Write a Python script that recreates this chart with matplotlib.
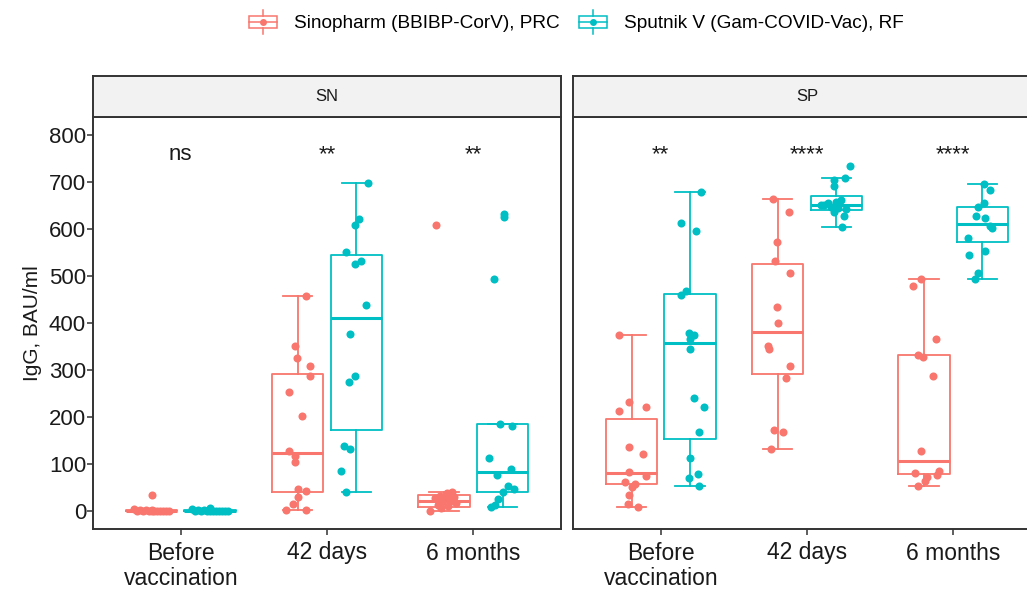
import matplotlib
matplotlib.use("Agg")
import matplotlib.pyplot as plt
import numpy as np
from matplotlib.legend_handler import HandlerBase
from matplotlib.patches import Rectangle
from matplotlib.lines import Line2D

plt.rcParams['font.family'] = ['Liberation Sans', 'DejaVu Sans']

# ---------------- data ----------------
timepoints = ["Before\nvaccination", "42 days", "6 months"]
panels = ["SN", "SP"]
groups = ["Sinopharm (BBIBP-CorV), PRC", "Sputnik V (Gam-COVID-Vac), RF"]
colors = ["#F8766D", "#00BFC4"]
signif = {"SN": ["ns", "**", "**"], "SP": ["**", "****", "****"]}

# box statistics: (whislo, q1, med, q3, whishi)
box_SN_sino = [(0, 0, 1, 2, 4), (2, 41, 123, 291, 458), (0, 9, 21, 34, 41)]
box_SN_sput = [(0, 0, 1, 2, 4), (41, 172, 411, 544, 698), (9, 41, 84, 185, 185)]
box_SP_sino = [(9, 57, 82, 195, 374), (133, 291, 380, 525, 663), (53, 79, 107, 333, 493)]
box_SP_sput = [(53, 153, 357, 462, 679), (605, 640, 651, 669, 708), (493, 572, 610, 646, 696)]

# individual values per panel / group / timepoint
SN_sino_before = [34, 4, 3, 2, 2, 1, 1, 1, 0, 0, 0, 0, 0, 0, 0]
SN_sino_42 = [458, 352, 326, 309, 287, 253, 202, 128, 118, 105, 47, 42, 30, 15, 2, 2]
SN_sino_6m = [608, 41, 38, 35, 32, 30, 27, 25, 22, 20, 17, 14, 10, 6, 0]
SN_sput_before = [6, 4, 3, 2, 2, 1, 1, 1, 0, 0, 0, 0, 0, 0, 0]
SN_sput_42 = [698, 621, 608, 551, 531, 525, 438, 377, 288, 274, 138, 133, 86, 41]
SN_sput_6m = [631, 626, 493, 185, 182, 114, 89, 76, 53, 47, 41, 25, 13, 9]
SP_sino_before = [374, 233, 213, 221, 137, 121, 84, 74, 61, 57, 52, 34, 16, 9]
SP_sino_42 = [663, 637, 573, 531, 506, 435, 400, 351, 344, 309, 284, 172, 169, 133]
SP_sino_6m = [493, 479, 367, 333, 328, 287, 128, 82, 86, 77, 72, 65, 53]
SP_sput_before = [679, 612, 595, 460, 467, 378, 374, 365, 345, 240, 221, 169, 114, 80, 70, 53]
SP_sput_42 = [734, 708, 704, 691, 662, 651, 647, 644, 650, 637, 628, 605, 655, 642, 658]
SP_sput_6m = [696, 683, 655, 646, 628, 624, 606, 601, 580, 554, 545, 506, 493]

# horizontal jitter of each point (category units)
jit_before = [0.0, -0.12, -0.08, -0.04, 0.0, 0.04, 0.08, 0.12, -0.1, -0.06, -0.02, 0.02, 0.06, 0.1, 0.0]
jit_SN_sino_42 = [0.055, -0.02, -0.007, 0.082, 0.082, -0.058, 0.031, -0.058, -0.02, -0.02, 0, 0.055, 0, -0.031, -0.082, 0.055]
jit_SN_sino_6m = [-0.055, 0.055, 0.02, 0.034, -0.027, 0.068, -0.061, 0.007, 0.048, -0.014, 0.082, -0.041, 0.027, -0.02, -0.096]
jit_SN_sput_42 = [0.082, 0.02, -0.01, -0.072, 0.031, -0.01, 0.068, -0.041, -0.01, -0.051, -0.082, -0.041, -0.102, -0.072]
jit_SN_sput_6m = [0.01, 0.01, -0.061, -0.02, 0.068, -0.092, 0.061, -0.041, 0.041, 0.082, 0, -0.031, -0.051, -0.082]
jit_SP_sino_before = [-0.087, -0.014, -0.087, 0.096, -0.014, 0.08, -0.014, 0.096, -0.046, 0.027, 0.005, -0.014, -0.025, 0.046]
jit_SP_sino_42 = [-0.034, 0.075, -0.007, -0.017, 0.085, -0.007, 0, -0.068, -0.058, 0.085, 0.055, -0.027, 0.034, -0.048]
jit_SP_sino_6m = [-0.02, -0.073, 0.082, -0.043, -0.005, 0.063, -0.02, -0.061, 0.102, 0.087, 0.018, 0.007, -0.043]
jit_SP_sput_before = [0.073, -0.059, 0.043, -0.059, -0.027, -0.005, 0.029, 0, 0, 0.029, 0.094, 0.063, 0, 0.053, -0.005, 0.063]
jit_SP_sput_42 = [0.096, 0.061, -0.014, -0.014, 0.034, -0.082, -0.034, 0.014, -0.102, -0.014, 0.055, 0.041, -0.055, 0.068, 0]
jit_SP_sput_6m = [0.009, 0.048, 0.009, -0.032, -0.043, 0.02, 0.048, 0.066, -0.1, 0.014, -0.094, -0.032, -0.05]

points = {
    "SN": [[(SN_sino_before, jit_before), (SN_sino_42, jit_SN_sino_42), (SN_sino_6m, jit_SN_sino_6m)],
           [(SN_sput_before, jit_before), (SN_sput_42, jit_SN_sput_42), (SN_sput_6m, jit_SN_sput_6m)]],
    "SP": [[(SP_sino_before, jit_SP_sino_before), (SP_sino_42, jit_SP_sino_42), (SP_sino_6m, jit_SP_sino_6m)],
           [(SP_sput_before, jit_SP_sput_before), (SP_sput_42, jit_SP_sput_42), (SP_sput_6m, jit_SP_sput_6m)]],
}
boxes = {"SN": [box_SN_sino, box_SN_sput], "SP": [box_SP_sino, box_SP_sput]}

# ---------------- figure ----------------
W, H = 1027, 591
fig = plt.figure(figsize=(W / 100, H / 100), dpi=100)

def fx(px):
    return px / W

def fy(py):
    return 1 - py / H

panel_left = [93, 573]
panel_w = 468
panel_top, panel_bot = 117, 529
strip_top = 76

dark = "#333333"
offsets = [-0.2, 0.2]

for pi, pname in enumerate(panels):
    ax = fig.add_axes([fx(panel_left[pi]), fy(panel_bot), fx(panel_w), (panel_bot - panel_top) / H])
    ax.set_xlim(0.4, 3.6)
    ax.set_ylim(-38, 838)
    for gi in range(2):
        stats = []
        for (lo, q1, med, q3, hi) in boxes[pname][gi]:
            stats.append(dict(whislo=lo, q1=q1, med=med, q3=q3, whishi=hi, fliers=[]))
        pos = [k + 1 + offsets[gi] for k in range(3)]
        c = colors[gi]
        ax.bxp(stats, positions=pos, widths=0.35, capwidths=0.2, showfliers=False,
               boxprops=dict(color=c, linewidth=1.3),
               medianprops=dict(color=c, linewidth=2.2),
               whiskerprops=dict(color=c, linewidth=1.3),
               capprops=dict(color=c, linewidth=1.3), zorder=2)
        for k in range(3):
            vals, jit = points[pname][gi][k]
            xs = np.array(pos[k]) + np.array(jit[:len(vals)])
            ax.plot(xs, vals, 'o', color=c, ms=5.8, mec='none', zorder=3)
    for k, lab in enumerate(signif[pname]):
        ax.text(k + 1, 747, lab, ha='center', va='baseline', fontsize=16, color='#1a1a1a')
    ax.set_xticks([1, 2, 3])
    ax.set_xticklabels(timepoints, fontsize=16.5, color='#1a1a1a', linespacing=1.15)
    if pi == 0:
        ax.set_yticks([0, 100, 200, 300, 400, 500, 600, 700, 800])
        ax.tick_params(axis='y', labelsize=16, labelcolor='#1a1a1a', length=4, color=dark, width=1.1, pad=1)
        ax.set_ylabel("IgG, BAU/ml", fontsize=15, color='#1a1a1a', labelpad=5)
    else:
        ax.set_yticks([])
    ax.tick_params(axis='x', length=4, color=dark, width=1.1, pad=5)
    for s in ax.spines.values():
        s.set_color(dark)
        s.set_linewidth(1.4)
    # strip
    sax = fig.add_axes([fx(panel_left[pi]), fy(panel_top), fx(panel_w), (panel_top - strip_top) / H])
    sax.set_facecolor("#f2f2f2")
    sax.set_xticks([])
    sax.set_yticks([])
    for s in sax.spines.values():
        s.set_color(dark)
        s.set_linewidth(1.4)
    sax.text(0.5, 0.5, pname, transform=sax.transAxes, ha='center', va='center', fontsize=12, color='#1a1a1a')


class BoxKeyHandler(HandlerBase):
    def create_artists(self, legend, orig_handle, xdescent, ydescent, width, height, fontsize, trans):
        c = orig_handle.get_color()
        x0, y0 = -xdescent, -ydescent
        cx = x0 + width / 2
        cy = y0 + height / 2
        bw = width * 0.85
        bh = height * 0.5
        rect = Rectangle((cx - bw / 2, cy - bh / 2), bw, bh, fill=False, edgecolor=c, lw=1.1, transform=trans)
        l1 = Line2D([cx, cx], [y0 - height * 0.05, cy - bh / 2], color=c, lw=1.1, transform=trans)
        l2 = Line2D([cx, cx], [cy + bh / 2, y0 + height * 1.05], color=c, lw=1.1, transform=trans)
        l3 = Line2D([cx - bw / 2, cx + bw / 2], [cy, cy], color=c, lw=1.1, transform=trans)
        dot = Line2D([cx], [cy], marker='o', ms=5, color=c, mec='none', transform=trans)
        return [rect, l1, l2, l3, dot]


handles = [Line2D([], [], color=c) for c in colors]
fig.legend(handles, groups, loc='center', bbox_to_anchor=(fx(575), fy(22)), ncol=2, frameon=False,
           fontsize=13.7, handler_map={Line2D: BoxKeyHandler()}, handlelength=1.75, handleheight=1.45,
           handletextpad=0.75, columnspacing=0.9)

fig.savefig("out.png", dpi=100)
